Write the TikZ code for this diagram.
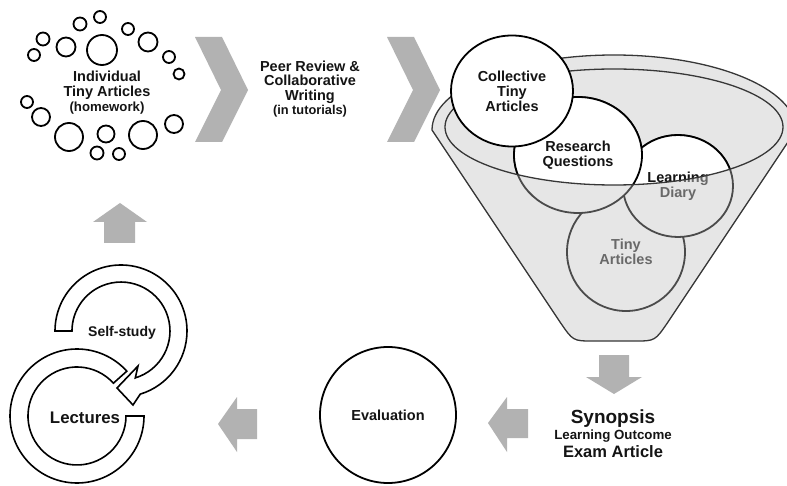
\documentclass[tikz,border=0pt]{standalone}
\usepackage{fontspec}
\setmainfont{Liberation Sans}
\usetikzlibrary{shapes.geometric}
\definecolor{arrowgray}{RGB}{178,178,178}
\definecolor{funnelgray}{RGB}{230,230,230}
\definecolor{rimgray}{RGB}{55,55,55}
\definecolor{inkgray}{RGB}{20,20,20}
\definecolor{sunkline}{RGB}{75,75,75}
\definecolor{sunktext}{RGB}{105,105,105}
\tikzset{
  dot/.style={circle,draw=black,line width=1.8pt,fill=white,inner sep=0pt},
  txt/.style={align=center,text=inkgray,font=\fontsize{14.5}{15}\selectfont\bfseries},
  blob/.style={ellipse,draw=black,line width=1.8pt,fill=white,inner sep=0pt,txt},
  sunkblob/.style={blob,draw=sunkline,fill=funnelgray,text=sunktext},
  fatarrow/.style={fill=arrowgray},
  ring/.style={draw=black,line width=1.6pt,fill=white},
  rim/.style={draw=rimgray,line width=1.3pt}
}
\begin{document}
\begin{tikzpicture}[x=1pt,y=-1pt]
\clip (0,0) rectangle (787,486);
\fill[white] (0,0) rectangle (787,486);

\node[dot,minimum size=12pt] (d1) at (100,17) {};
\node[dot,minimum size=13pt] (d2) at (80,24) {};
\node[dot,minimum size=12pt] (d3) at (128,29) {};
\node[dot,minimum size=13pt] (d4) at (43,39) {};
\node[dot,minimum size=30pt] (d5) at (102,50) {};
\node[dot,minimum size=19pt] (d6) at (66,47) {};
\node[dot,minimum size=19pt] (d7) at (148,42) {};
\node[dot,minimum size=12pt] (d8) at (34,55) {};
\node[dot,minimum size=12pt] (d9) at (169,57) {};
\node[dot,minimum size=11pt] (d10) at (179,74) {};
\node[dot,minimum size=12pt] (d11) at (27,102) {};
\node[dot,minimum size=18pt] (d12) at (41,117) {};
\node[dot,minimum size=28pt] (d13) at (69,137) {};
\node[dot,minimum size=17pt] (d14) at (106,134) {};
\node[dot,minimum size=28pt] (d15) at (143,135) {};
\node[dot,minimum size=18pt] (d16) at (174,124) {};
\node[dot,minimum size=13pt] (d17) at (97,153) {};
\node[dot,minimum size=12pt] (d18) at (119,154) {};
\node[txt] (indiv) at (107,93) {Individual\\Tiny Articles\\{\fontsize{13.2}{16}\selectfont(homework)}};

\fill[fatarrow] (195,37) -- (222,37) -- (248,90) -- (222,142) -- (195,142) -- (221,90) -- cycle;
\node[txt,font=\fontsize{14.5}{14.3}\selectfont\bfseries] (peer) at (310,89) {Peer Review \&\\Collaborative\\Writing\\{\fontsize{12.8}{15}\selectfont(in tutorials)}};
\fill[fatarrow] (387,37) -- (414,37) -- (440,90) -- (414,142) -- (387,142) -- (413,90) -- cycle;

\fill[funnelgray] (432,130) arc[start angle=180,end angle=360,x radius=182,y radius=75] -- (668,322) .. controls (655,341) .. (635,341) -- (593,341) .. controls (573,341) .. (560,322) -- cycle;
\node[sunkblob,minimum width=118pt,minimum height=118pt] (ta) at (626,252) {Tiny\\Articles};
\node[sunkblob,minimum width=110pt,minimum height=102pt] (ld) at (678,186) {Learning\\Diary};
\node[sunkblob,minimum width=128pt,minimum height=116pt] (rq) at (578,155) {Research\\Questions};
\begin{scope}
\clip (614,127) ellipse[x radius=169,y radius=58];
\node[blob,minimum width=110pt,minimum height=102pt] (ldtop) at (678,186) {Learning\\Diary};
\node[blob,minimum width=128pt,minimum height=116pt] (rqtop) at (578,155) {Research\\Questions};
\end{scope}
\draw[rim] (432,130) arc[start angle=180,end angle=360,x radius=182,y radius=75] -- (668,322) .. controls (655,341) .. (635,341) -- (593,341) .. controls (573,341) .. (560,322) -- cycle;
\draw[rim] (614,127) ellipse[x radius=169,y radius=58];
\node[blob,minimum width=122pt,minimum height=111pt] (coll) at (512,91) {Collective\\Tiny\\Articles};

\fill[fatarrow] (599,355) -- (629,355) -- (629,377) -- (642,377) -- (614,394) -- (586,377) -- (599,377) -- cycle;
\node[txt,font=\fontsize{19}{19}\selectfont\bfseries,anchor=base] (syn) at (613,423) {Synopsis};
\node[txt,font=\fontsize{13.3}{14}\selectfont\bfseries,anchor=base] (synlo) at (613,439) {Learning Outcome};
\node[txt,font=\fontsize{16.5}{17}\selectfont\bfseries,anchor=base] (synex) at (613,457) {Exam Article};
\fill[fatarrow] (528,409) -- (507,409) -- (507,397) -- (488,423) -- (507,452) -- (507,438) -- (528,438) -- cycle;

\node[blob,circle,minimum size=136pt] (eval) at (388,415) {Evaluation};
\fill[fatarrow] (257,409) -- (237,409) -- (237,397) -- (218,424) -- (237,452) -- (237,439) -- (257,439) -- cycle;

\draw[ring] (144,416) arc[start angle=0,end angle=318,radius=67] -- (113.4,383.2) arc[start angle=318,end angle=0,radius=49] -- cycle;
\draw[ring] (55,331) arc[start angle=180,end angle=433,radius=66] -- (133,405) -- (117,388) -- (138,366) -- (135.3,377.9) arc[start angle=433,end angle=180,radius=49] -- cycle;
\node[txt,font=\fontsize{16.8}{17}\selectfont\bfseries] (lect) at (85,418) {Lectures};
\node[txt,font=\fontsize{14}{15}\selectfont\bfseries] (self) at (122,333) {Self-study};
\fill[fatarrow] (104,243) -- (104,222) -- (93,222) -- (120,203) -- (147,222) -- (135,222) -- (135,243) -- cycle;
\end{tikzpicture}
\end{document}
